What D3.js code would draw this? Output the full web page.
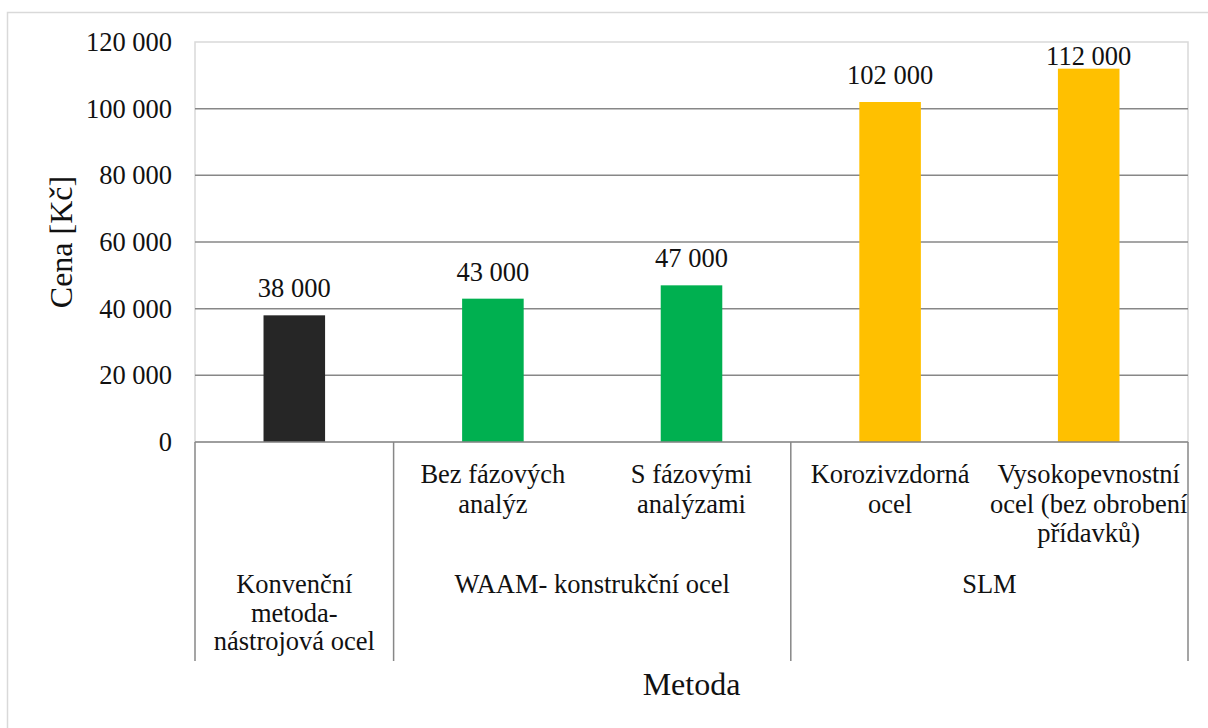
<!DOCTYPE html>
<html>
<head>
<meta charset="utf-8">
<script src="https://cdn.jsdelivr.net/npm/d3@7"></script>
<style>
  html, body { margin: 0; padding: 0; background: #fff; }
  svg { display: block; }
  text { font-family: "Liberation Serif", "Times New Roman", serif; fill: #111; }
</style>
</head>
<body>
<svg id="chart" width="1208" height="728"></svg>
<script>
// ---- data ----
const innerLabels = [
  [],
  ["Bez fázových", "analýz"],
  ["S fázovými", "analýzami"],
  ["Korozivzdorná", "ocel"],
  ["Vysokopevnostní", "ocel (bez obrobení", "přídavků)"]
];
const values = [38000, 43000, 47000, 102000, 112000];
const barColors = ["#262626", "#00b050", "#00b050", "#ffc000", "#ffc000"];
const groupLabels = [
  ["Konvenční", "metoda-", "nástrojová ocel"],
  ["WAAM- konstrukční ocel"],
  ["SLM"]
];
const groupSizes = [1, 2, 2];
const yTicks = [0, 20000, 40000, 60000, 80000, 100000, 120000];
const yTitle = "Cena [Kč]";
const xTitle = "Metoda";

// ---- layout ----
const FONT = '"Liberation Serif", "Times New Roman", serif';
const FS = 26.5;
const svg = d3.select("#chart");
const L = 195, R = 1188, T = 42, B = 442;
const axisBottom = 661;

const idx = values.map((d, i) => i);
const x = d3.scaleBand().domain(idx).range([L, R]).paddingInner(0.69).paddingOuter(0.345);
const xCat = d3.scaleBand().domain(idx).range([L, R]).padding(0);
const y = d3.scaleLinear().domain([0, 120000]).range([B, T]);

const fmt = v => d3.format(",")(v).replace(/,/g, "\u00a0");

// outer chart frame
svg.append("rect")
  .attr("x", 7.5).attr("y", 12.5).attr("width", 1220).attr("height", 740)
  .attr("fill", "none").attr("stroke", "#d9d9d9").attr("stroke-width", 1.5);

// plot area border (light)
svg.append("rect")
  .attr("x", L).attr("y", T).attr("width", R - L).attr("height", B - T)
  .attr("fill", "none").attr("stroke", "#d9d9d9").attr("stroke-width", 1.5);

// gridlines
svg.append("g").selectAll("line")
  .data(yTicks.filter(t => t > 0 && t < 120000))
  .join("line")
  .attr("x1", L).attr("x2", R)
  .attr("y1", d => y(d)).attr("y2", d => y(d))
  .attr("stroke", "#878787").attr("stroke-width", 1.5);

// y axis labels via d3 axis
const yAxis = d3.axisLeft(y).tickValues(yTicks).tickFormat(fmt).tickSize(0).tickPadding(23);
const yg = svg.append("g").attr("transform", `translate(${L},0)`).call(yAxis)
  .attr("font-family", FONT).attr("font-size", FS);
yg.select(".domain").remove();
yg.selectAll("text")
  .attr("font-size", FS)
  .attr("font-family", FONT)
  .attr("fill", "#111");

// bars
svg.append("g").selectAll("rect")
  .data(values)
  .join("rect")
  .attr("x", (d, i) => x(i))
  .attr("width", x.bandwidth())
  .attr("y", d => y(d))
  .attr("height", d => y(0) - y(d))
  .attr("fill", (d, i) => barColors[i]);

// data labels
svg.append("g").selectAll("text")
  .data(values)
  .join("text")
  .attr("x", (d, i) => x(i) + x.bandwidth() / 2)
  .attr("y", d => Math.max(y(d) - 18, 65))
  .attr("text-anchor", "middle")
  .attr("font-family", FONT)
  .attr("font-size", FS)
  .text(d => fmt(d));

// category axis base line
svg.append("line")
  .attr("x1", L).attr("x2", R).attr("y1", B).attr("y2", B)
  .attr("stroke", "#878787").attr("stroke-width", 1.5);

// group boundaries
const bounds = [0];
groupSizes.reduce((acc, s) => { bounds.push(acc + s); return acc + s; }, 0);
svg.append("g").selectAll("line")
  .data(bounds)
  .join("line")
  .attr("x1", b => b < values.length ? xCat(b) : R)
  .attr("x2", b => b < values.length ? xCat(b) : R)
  .attr("y1", B).attr("y2", axisBottom)
  .attr("stroke", "#878787").attr("stroke-width", 1.5);

// inner labels
const inner = svg.append("g");
innerLabels.forEach((lines, i) => {
  const cx = xCat(i) + xCat.bandwidth() / 2;
  const t = inner.append("text")
    .attr("text-anchor", "middle")
    .attr("font-family", FONT)
    .attr("font-size", FS)
    .attr("x", cx)
    .attr("y", 483);
  lines.forEach((ln, k) => {
    t.append("tspan").attr("x", cx)
      .attr("dy", k === 0 ? 0 : 29.5).text(ln);
  });
});

// group labels
const outer = svg.append("g");
groupLabels.forEach((lines, g) => {
  const start = bounds[g], end = bounds[g + 1];
  const x0 = xCat(start);
  const x1 = end < values.length ? xCat(end) : R;
  const cx = (x0 + x1) / 2;
  const t = outer.append("text")
    .attr("text-anchor", "middle")
    .attr("font-family", FONT)
    .attr("font-size", FS)
    .attr("x", cx).attr("y", 593);
  lines.forEach((ln, k) => {
    t.append("tspan").attr("x", cx).attr("dy", k === 0 ? 0 : 28.5).text(ln);
  });
});

// axis titles
svg.append("text")
  .attr("transform", `translate(72,${(T + B) / 2}) rotate(-90)`)
  .attr("text-anchor", "middle")
  .attr("font-family", FONT)
  .attr("font-size", 32)
  .text(yTitle);

svg.append("text")
  .attr("x", (L + R) / 2).attr("y", 695)
  .attr("text-anchor", "middle")
  .attr("font-family", FONT)
  .attr("font-size", 32)
  .text(xTitle);
</script>
</body>
</html>
